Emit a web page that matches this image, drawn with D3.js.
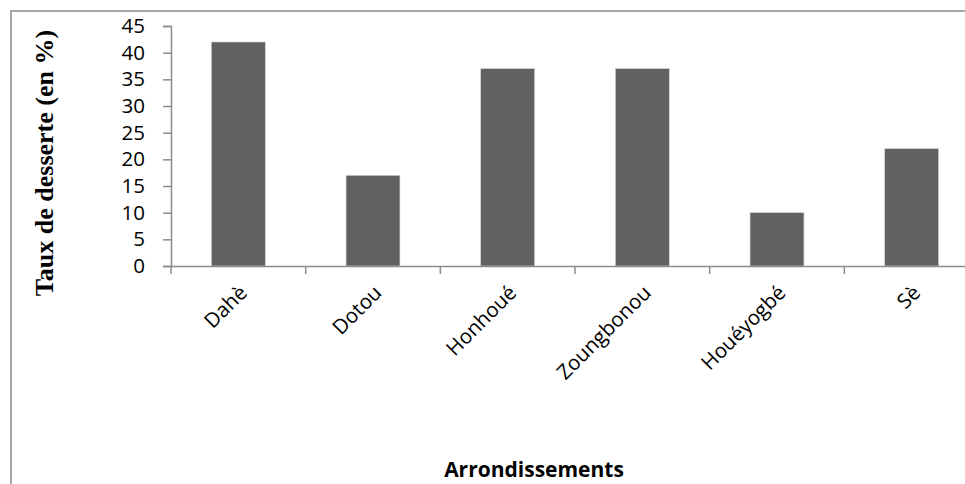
<!DOCTYPE html>
<html>
<head>
<meta charset="utf-8">
<script src="https://cdn.jsdelivr.net/npm/d3@7"></script>
<style>
  body { margin: 0; background: #fff; }
  .tick text { font-family: "Open Sans", sans-serif; fill: #000; }
</style>
</head>
<body>
<div id="chart"></div>
<script>
// data
var categories = ["Dahè", "Dotou", "Honhoué", "Zoungbonou", "Houéyogbé", "Sè"];
var values = [42, 17, 37, 37, 10, 22];
var yTicks = [0, 5, 10, 15, 20, 25, 30, 35, 40, 45];

var svgWidth = 965;
var svgHeight = 484;

var margin = { top: 26, right: -14, bottom: 218, left: 171 };
var width = svgWidth - margin.left - margin.right;
var height = svgHeight - margin.top - margin.bottom;

var svg = d3.select("#chart")
  .append("svg")
  .attr("width", svgWidth)
  .attr("height", svgHeight);

// outer frame (only left and top edges fall inside the picture)
svg.append("rect")
  .attr("x", 11)
  .attr("y", 11)
  .attr("width", 1100)
  .attr("height", 600)
  .attr("fill", "none")
  .attr("stroke", "#8a8a8a")
  .attr("stroke-width", 1.5);

var chartGroup = svg.append("g")
  .attr("transform", `translate(${margin.left}, ${margin.top})`);

var xScale = d3.scaleBand()
  .domain(categories)
  .range([0, width])
  .paddingInner(0.6)
  .paddingOuter(0.3);

var yScale = d3.scaleLinear()
  .domain([0, 45])
  .range([height, 0]);

// bars
chartGroup.selectAll("rect.bar")
  .data(values)
  .enter()
  .append("rect")
  .attr("class", "bar")
  .attr("x", (d, i) => xScale(categories[i]))
  .attr("y", d => yScale(d))
  .attr("width", xScale.bandwidth())
  .attr("height", d => height - yScale(d))
  .attr("fill", "#616161")
  .attr("stroke", "#d0d0d0")
  .attr("stroke-width", 0.6);

// y axis
var leftAxis = d3.axisLeft(yScale)
  .tickValues(yTicks)
  .tickSize(8)
  .tickPadding(18);

var yAxis = chartGroup.append("g").call(leftAxis);
yAxis.selectAll("text").style("font-size", "20.5px");

// x axis: ticks sit on the category boundaries
var step = xScale.step();
var bottomAxis = d3.axisBottom(xScale).tickSize(0).tickPadding(0);
var xAxis = chartGroup.append("g")
  .attr("transform", `translate(0, ${height})`)
  .call(bottomAxis);

xAxis.selectAll("text")
  .style("font-size", "20.5px")
  .attr("text-anchor", "end")
  .attr("dy", 0)
  .attr("transform", "translate(10, 28) rotate(-45)");

var bounds = d3.range(categories.length + 1).map(i => i * step);
xAxis.selectAll("line.bound")
  .data(bounds)
  .enter()
  .append("line")
  .attr("class", "bound")
  .attr("x1", d => d)
  .attr("x2", d => d)
  .attr("y1", 0)
  .attr("y2", 8);

chartGroup.selectAll(".domain, line")
  .attr("stroke", "#8c8c8c")
  .attr("stroke-width", 1.5);

// axis titles
svg.append("text")
  .attr("transform", "translate(53, 163) rotate(-90)")
  .attr("text-anchor", "middle")
  .style("font-family", "'Liberation Serif', 'Times New Roman', serif")
  .style("font-weight", "bold")
  .style("font-size", "26px")
  .text("Taux de desserte (en %)");

svg.append("text")
  .attr("x", 534)
  .attr("y", 477)
  .attr("text-anchor", "middle")
  .style("font-family", "'Open Sans', sans-serif")
  .style("font-weight", "bold")
  .style("font-size", "21px")
  .text("Arrondissements");
</script>
</body>
</html>
